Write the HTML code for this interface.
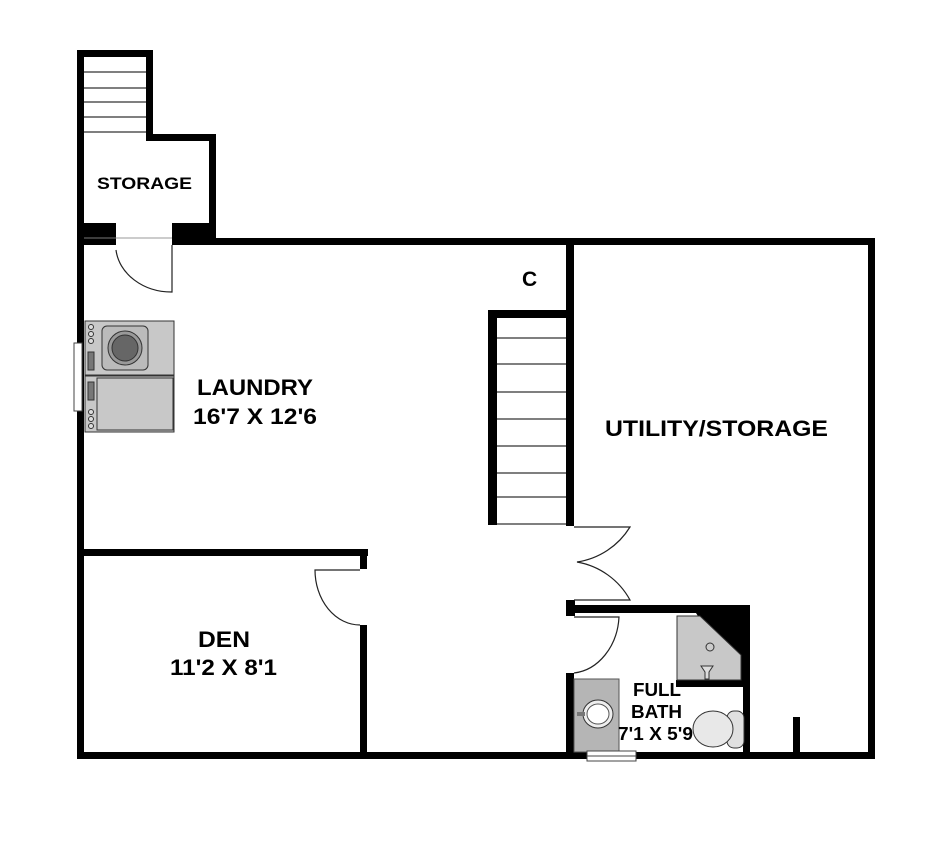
<!DOCTYPE html>
<html><head><style>body{margin:0;background:#fff}svg{display:block}</style></head><body>
<svg width="935" height="841" viewBox="0 0 935 841" xmlns="http://www.w3.org/2000/svg" font-family="Liberation Sans, sans-serif" font-weight="bold">
<rect width="935" height="841" fill="#fff"/>
<g stroke="#333" stroke-width="1.3">
<line x1="83" y1="72" x2="147" y2="72"/><line x1="83" y1="88" x2="147" y2="88"/><line x1="83" y1="102" x2="147" y2="102"/><line x1="83" y1="117" x2="147" y2="117"/><line x1="83" y1="132" x2="147" y2="132"/>
</g>
<g fill="#000">
<rect x="77" y="50" width="75" height="7"/>
<rect x="146" y="50" width="7" height="90"/>
<rect x="146" y="134" width="70" height="7"/>
<rect x="209" y="134" width="7" height="110"/>
<rect x="77" y="50" width="7" height="505"/>
<rect x="77" y="223" width="39" height="22"/>
<rect x="172" y="223" width="44" height="22"/>
<rect x="209" y="238" width="666" height="7"/>
<rect x="868" y="238" width="7" height="521"/>
<rect x="77" y="752" width="798" height="7"/>
<rect x="77" y="549" width="7" height="210"/>
<rect x="77" y="549" width="291" height="7"/>
<rect x="360" y="549" width="7" height="20"/>
<rect x="360" y="625" width="7" height="130"/>
<rect x="488" y="311" width="9" height="214"/>
<rect x="488" y="310" width="86" height="8"/>
<rect x="566" y="245" width="8" height="281"/>
<rect x="566" y="600" width="9" height="16"/>
<rect x="566" y="605" width="184" height="8"/>
<rect x="743" y="605" width="7" height="153"/>
<rect x="566" y="673" width="8" height="85"/>
<rect x="676" y="680" width="70" height="7"/>
<rect x="793" y="717" width="7" height="40"/>
<polygon points="696,613 750,613 750,682 740,682"/>
</g>
<line x1="116" y1="238" x2="172" y2="238" stroke="#999" stroke-width="1"/>
<line x1="84" y1="238" x2="116" y2="238" stroke="#777" stroke-width="1"/>
<g stroke="#333" stroke-width="1.3">
<line x1="497" y1="338" x2="566" y2="338"/><line x1="497" y1="364" x2="566" y2="364"/><line x1="497" y1="392" x2="566" y2="392"/><line x1="497" y1="419" x2="566" y2="419"/><line x1="497" y1="446" x2="566" y2="446"/><line x1="497" y1="473" x2="566" y2="473"/><line x1="497" y1="497" x2="566" y2="497"/><line x1="497" y1="524" x2="566" y2="524"/>
</g>
<g fill="none" stroke="#222" stroke-width="1.2">
<path d="M172 245 L172 292 A56 47 0 0 1 116 250"/>
<path d="M360 570 L315 570 A45 55 0 0 0 360 625"/>
<path d="M574 527 L630 527 A75 75 0 0 1 577 562 A75 75 0 0 1 630 600 L574 600"/>
<path d="M574 617 L619 617 A50 60 0 0 1 574 673"/>
</g>
<rect x="74" y="343" width="8" height="68" fill="#fff" stroke="#444" stroke-width="1"/>
<g stroke="#333" stroke-width="1">
<rect x="85" y="321" width="89" height="54" fill="#c8c8c8"/>
<rect x="85" y="376" width="89" height="56" fill="#c8c8c8"/>
<rect x="102" y="326" width="46" height="44" rx="5" fill="#bbb"/>
<circle cx="125" cy="348" r="17" fill="#999"/>
<circle cx="125" cy="348" r="13" fill="#666"/>
<rect x="97" y="378" width="76" height="52" fill="#c8c8c8"/>
<circle cx="91" cy="327" r="2.5" fill="#ddd"/><circle cx="91" cy="334" r="2.5" fill="#ddd"/><circle cx="91" cy="341" r="2.5" fill="#ddd"/>
<rect x="88" y="352" width="6" height="18" fill="#777"/>
<rect x="88" y="382" width="6" height="18" fill="#777"/>
<circle cx="91" cy="412" r="2.5" fill="#ddd"/><circle cx="91" cy="419" r="2.5" fill="#ddd"/><circle cx="91" cy="426" r="2.5" fill="#ddd"/>
</g>
<polygon points="677,616 700,616 741,655 741,680 677,680" fill="#c8c8c8" stroke="#333" stroke-width="1"/>
<circle cx="710" cy="647" r="4" fill="#ccc" stroke="#333"/>
<path d="M701 666 L713 666 L709 672 L709 679 L705 679 L705 672 Z" fill="#ddd" stroke="#333" stroke-width="1"/>
<rect x="574" y="679" width="45" height="73" fill="#b5b5b5" stroke="#555" stroke-width="1"/>
<ellipse cx="598" cy="714" rx="15" ry="14" fill="#eee" stroke="#333"/>
<ellipse cx="598" cy="714" rx="11" ry="10" fill="#fff" stroke="#555"/>
<rect x="577" y="712" width="8" height="4" fill="#777"/>
<rect x="727" y="711" width="17" height="37" rx="7" fill="#e0e0e0" stroke="#333"/>
<ellipse cx="713" cy="729" rx="20" ry="18" fill="#e8e8e8" stroke="#333"/>
<rect x="587" y="751" width="49" height="10" fill="#fff" stroke="#444" stroke-width="1"/>
<line x1="587" y1="756" x2="636" y2="756" stroke="#444"/>
<g fill="#000" lengthAdjust="spacingAndGlyphs">
<text x="97" y="189" font-size="17" textLength="95" lengthAdjust="spacingAndGlyphs">STORAGE</text>
<text x="522" y="286" font-size="21">C</text>
<text x="197" y="395" font-size="22" textLength="116" lengthAdjust="spacingAndGlyphs">LAUNDRY</text>
<text x="193" y="424" font-size="22" textLength="124" lengthAdjust="spacingAndGlyphs">16'7 X 12'6</text>
<text x="605" y="436" font-size="22" textLength="223" lengthAdjust="spacingAndGlyphs">UTILITY/STORAGE</text>
<text x="198" y="647" font-size="22" textLength="52" lengthAdjust="spacingAndGlyphs">DEN</text>
<text x="170" y="675" font-size="22" textLength="107" lengthAdjust="spacingAndGlyphs">11'2 X 8'1</text>
<text x="633" y="696" font-size="18" textLength="48" lengthAdjust="spacingAndGlyphs">FULL</text>
<text x="631" y="718" font-size="18" textLength="51" lengthAdjust="spacingAndGlyphs">BATH</text>
<text x="618" y="740" font-size="18" textLength="75" lengthAdjust="spacingAndGlyphs">7'1 X 5'9</text>
</g>
</svg>
</body></html>
